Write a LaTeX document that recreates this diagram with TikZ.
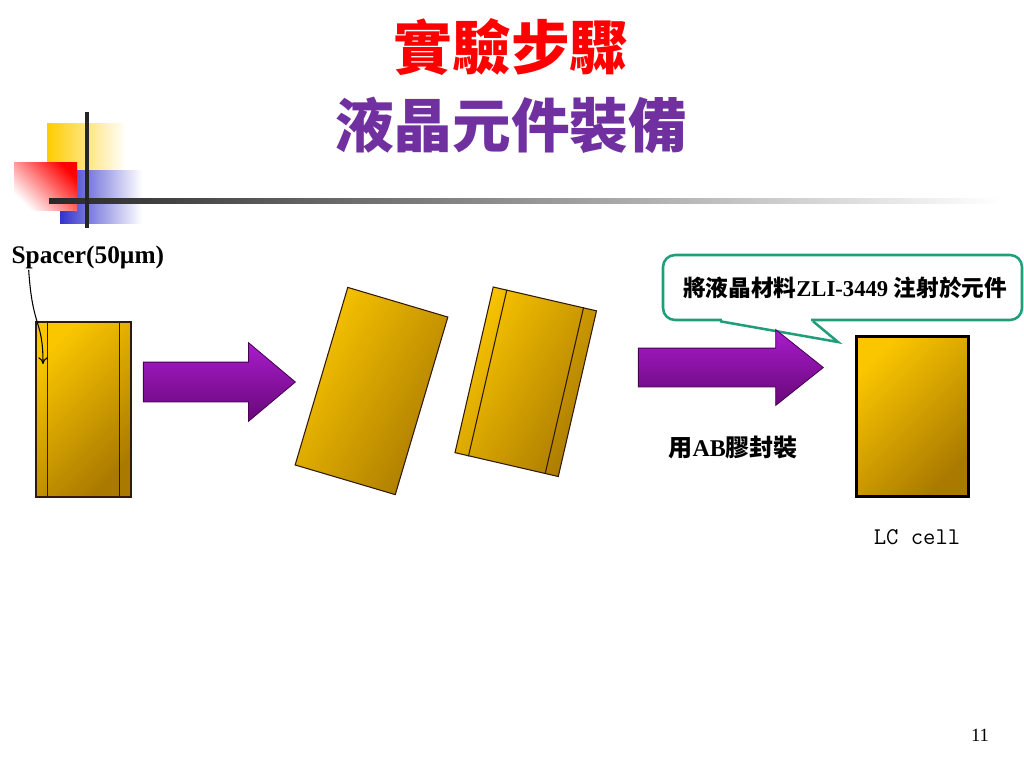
\documentclass[tikz,border=0pt]{standalone}
\usepackage{fontspec}
\setmainfont{Liberation Serif}
\newfontfamily\cjk{Noto Sans CJK TC}
\usetikzlibrary{arrows,arrows.meta,shapes,calc}

\definecolor{goldL}{RGB}{250,198,0}
\definecolor{goldD}{RGB}{170,122,0}
\definecolor{plateE}{RGB}{50,25,10}
\definecolor{pushT}{RGB}{168,28,204}
\definecolor{pushB}{RGB}{104,8,120}
\definecolor{pushE}{RGB}{70,0,80}
\definecolor{noteC}{RGB}{32,158,122}
\definecolor{titleR}{RGB}{255,0,0}
\definecolor{titleP}{RGB}{112,48,160}
\definecolor{decoY}{RGB}{255,204,0}
\definecolor{decoB}{RGB}{51,51,204}
\definecolor{decoR}{RGB}{255,0,0}
\definecolor{ruleC}{RGB}{40,40,40}

\begin{document}
\begin{tikzpicture}[x=0.75pt,y=-0.75pt,>={To[length=5pt,width=7pt]}]
  \tikzstyle{plate}=[rectangle,draw=plateE,line width=0.8pt,inner sep=0pt,top color=goldL,bottom color=goldD,shading angle=45]
  \tikzstyle{spacer}=[draw=plateE,line width=0.8pt]
  \tikzstyle{push}=[single arrow,draw=pushE,line width=0.6pt,inner sep=0pt,top color=pushT,bottom color=pushB,anchor=tip]
  \tikzstyle{noteline}=[draw=noteC,line width=1.9pt]
  \tikzstyle{lbl}=[inner sep=1pt,font=\fontsize{18}{20}\selectfont\bfseries]

  \useasboundingbox (0,0) rectangle (1024,768);

  % corner decoration
  \shade[left color=decoY,middle color=decoY,right color=white] (47,123) rectangle (126,170);
  \shade[left color=decoB,middle color=decoB,right color=white] (60,170) rectangle (142,223);
  \shade[top color=decoR,bottom color=white,shading angle=-45] (14,162) rectangle (77,210);
  \shade[left color=ruleC,right color=white] (49,198.5) rectangle (1000,203.5);
  \fill[black!85] (85,112) rectangle (89,228);

  \node (title) at (511,47) {\cjk\bfseries\fontsize{44}{48}\selectfont\color{titleR}實驗步驟};
  \node (subtitle) at (511,125) {\cjk\bfseries\fontsize{44}{48}\selectfont\color{titleP}液晶元件裝備};

  % glass with spacers
  \node [plate] (cella) at (83.5,409.5) [minimum width=71.25pt,minimum height=131.25pt] {};
  \draw [spacer] ($(cella.north west)!0.126!(cella.north east)$) -- ($(cella.south west)!0.126!(cella.south east)$);
  \draw [spacer] ($(cella.north east)!0.126!(cella.north west)$) -- ($(cella.south east)!0.126!(cella.south west)$);
  \node [lbl,anchor=base west,font=\fontsize{19}{21}\selectfont\bfseries] (spacerlbl) at (10,263) {Spacer(50µm)};
  \coordinate (spacerhit) at (43,364);
  \draw [->,line width=0.8pt] ($(spacerlbl.south west)!0.12!(spacerlbl.south east)$) .. controls +(4,60) and +(0,-45) .. (spacerhit);

  \node [push,minimum height=114pt,single arrow head extend=14.6pt,single arrow tip angle=80] (push1) at (296,382) {\rule{0pt}{29.25pt}};

  % the two halves
  \node [plate,shading angle=60] (half1) at (371.5,391) [minimum width=78.3pt,minimum height=138.9pt,rotate=-16.5] {};
  \node [plate,shading angle=60] (half2) at (525.75,381.75) [minimum width=79.5pt,minimum height=127.5pt,rotate=-13] {};
  \draw [spacer] ($(half2.north west)!0.135!(half2.north east)$) -- ($(half2.south west)!0.135!(half2.south east)$);
  \draw [spacer] ($(half2.north east)!0.13!(half2.north west)$) -- ($(half2.south east)!0.13!(half2.south west)$);

  % callout
  \node [noteline,rectangle,rounded corners=9pt,fill=white,minimum width=269.25pt,minimum height=48.75pt] (note) at (842.5,287.5)
        {\hspace{4pt}{\cjk\bfseries\fontsize{17}{20}\selectfont 將液晶材料}{\fontsize{17}{20}\selectfont\bfseries ZLI-3449 }{\cjk\bfseries\fontsize{17}{20}\selectfont 注射於元件}};
  \coordinate (tailL) at ($(note.south)+(-122.5,0)$);
  \coordinate (tailR) at ($(note.south)+(-29.5,0)$);
  \coordinate (notetip) at (838,342);
  \fill [white] ($(tailL)+(2,-3)$) rectangle ($(tailR)+(-2,2.5)$);
  \draw [noteline,line join=miter] (tailL) -- (notetip) -- (tailR);

  \node [push,minimum height=138.75pt,single arrow head extend=13.9pt,single arrow tip angle=77] (push2) at (824,367.5) {\rule{0pt}{28.5pt}};
  \node [lbl,anchor=west] (seal) at (667,447) {{\cjk 用}AB{\cjk 膠封裝}};

  % finished cell
  \node [plate,draw=black,line width=2.25pt] (lc) at (912,416) [minimum width=84pt,minimum height=120pt] {};
  \node [font=\ttfamily\fontsize{18}{20}\selectfont] (lclbl) at (917,537) {LC cell};

  \node [font=\fontsize{14}{16}\selectfont] (page) at (980,735) {11};
\end{tikzpicture}
\end{document}
